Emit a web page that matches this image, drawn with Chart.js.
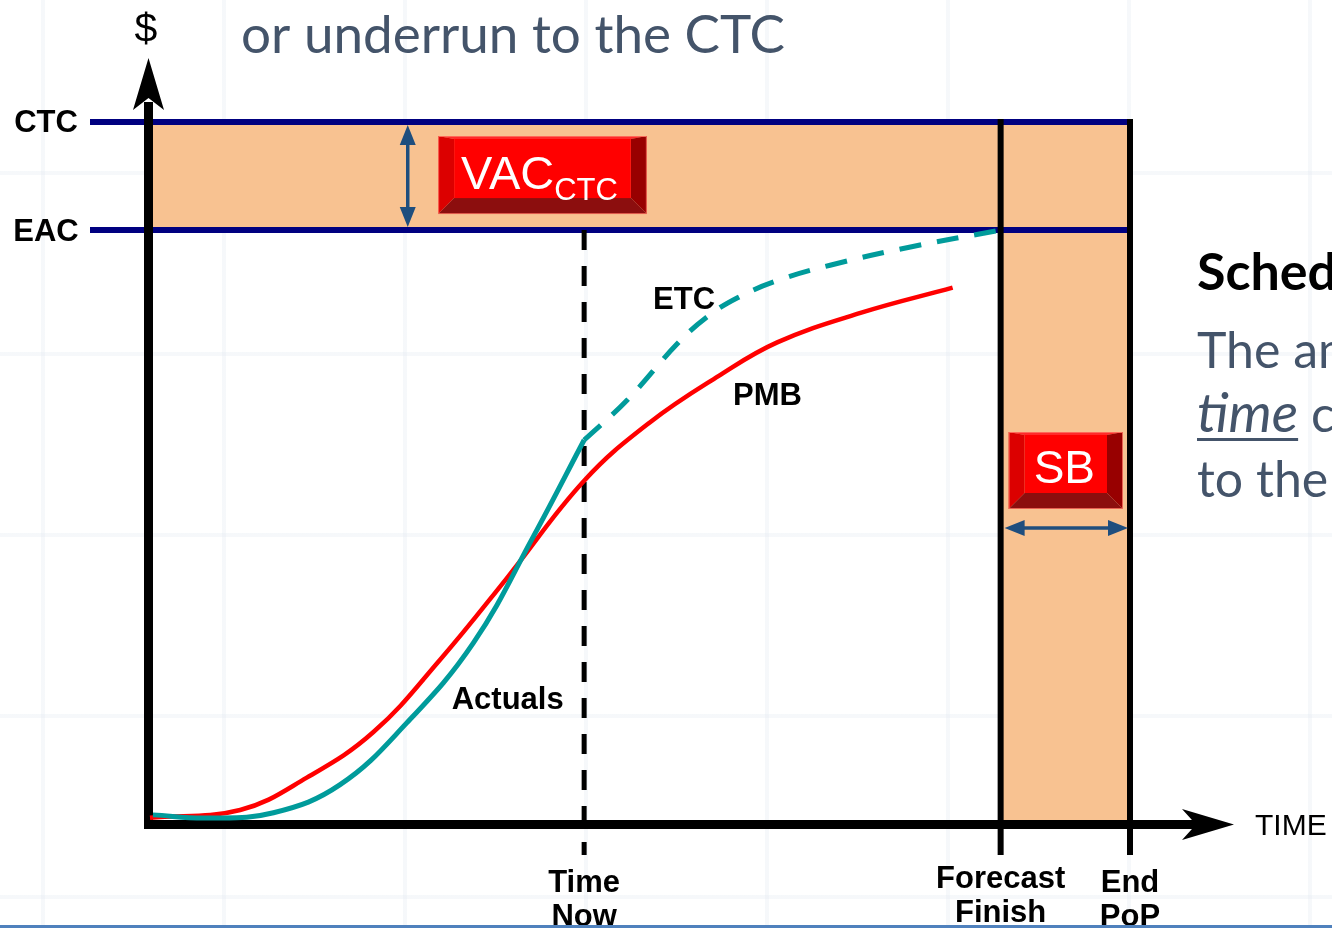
<!DOCTYPE html>
<html>
<head>
<meta charset="utf-8">
<title>CTC / EAC / Schedule Buffer</title>
<script src="https://cdn.jsdelivr.net/npm/chart.js@4.4.1/dist/chart.umd.min.js"></script>
<style>
    html, body { margin: 0; padding: 0; background: #fff; }
    #wrap {
        position: relative;
        width: 1332px;
        height: 928px;
        overflow: hidden;
        background-color: #fff;
        background-image:
            linear-gradient(to right, rgba(225, 232, 240, 0.3) 4px, transparent 4px),
            linear-gradient(to bottom, rgba(225, 232, 240, 0.3) 4px, transparent 4px);
        background-size: 181px 181px;
        background-position: 41px 171px;
    }
    #bottomRule {
        position: absolute; left: 0; right: 0; bottom: 0; height: 3px;
        background: #4f81bd;
    }
</style>
</head>
<body>
<div id="wrap">
    <canvas id="chart"></canvas>
    <div id="bottomRule"></div>
</div>
<script>
// Time axis: 0 = start, 100 = end of PoP.  Cost axis: 0 = zero, 100 = CTC.
const timeNow = 44.3;
const forecastFinish = 86.8;
const endPop = 100;
const ctc = 100;
const eac = 84.6;
const tickDepth = -4.4;

// Performance measurement baseline (red)
const pmbTime = [0, 9.2, 16, 22.8, 29.6, 36.4, 44.3, 51, 58, 64, 72.5, 81.9];
const pmbCost = [0.9, 2.0, 6.6, 13.1, 23.4, 35, 48.9, 57.2, 63.8, 68.6, 72.8, 76.4];

// Actuals up to time now (teal)
const actualTime = [0.3, 5.8, 12.6, 19.4, 26.2, 33, 39.1, 44.3];
const actualCost = [1.3, 0.85, 1.6, 5.6, 14.4, 25.8, 40.9, 54.7];

// Estimate to complete (teal dashed)
const etcTime = [44.3, 48.7, 53.8, 56.8, 60, 64, 69.4, 77.6, 86.8];
const etcCost = [54.7, 60.4, 68.4, 72.2, 75, 77.4, 79.6, 82.2, 84.6];

const milestoneTimes = [timeNow, forecastFinish, endPop];
const milestoneLabels = [['Time', 'Now'], ['Forecast', 'Finish'], ['End', 'PoP']];
const levelValues = [ctc, eac];
const levelLabels = ['CTC', 'EAC'];

// Curve labels placed in data units
const curveLabels = [
    { text: 'Actuals', t: 36.5, c: 16.4 },
    { text: 'PMB', t: 63, c: 59.7 },
    { text: 'ETC', t: 54.5, c: 73.4 }
];

const toPoints = (xs, ys) => xs.map((x, i) => ({ x, y: ys[i] }));

const BAND = '#f8c291';
const NAVY = '#000080';
const ARROW_BLUE = '#1f4e7e';
const SANS = '"Liberation Sans", Arial, sans-serif';
const SLIDE = 'Lato, "Open Sans", sans-serif';

function line(ctx, x1, y1, x2, y2) {
    ctx.beginPath();
    ctx.moveTo(x1, y1);
    ctx.lineTo(x2, y2);
    ctx.stroke();
}

function arrowHead(ctx, tipX, tipY, dx, dy, len, half, notch) {
    const bx = tipX - dx * len, by = tipY - dy * len;
    const nx = -dy, ny = dx;
    ctx.beginPath();
    ctx.moveTo(tipX, tipY);
    ctx.lineTo(bx + nx * half, by + ny * half);
    ctx.lineTo(tipX - dx * (len - notch), tipY - dy * (len - notch));
    ctx.lineTo(bx - nx * half, by - ny * half);
    ctx.closePath();
    ctx.fill();
}

// Bevelled red "button"
function button(ctx, x0, y0, x1, y1, bev) {
    const top = 3;
    const fx0 = x0 + bev, fx1 = x1 - bev, fy0 = y0 + top, fy1 = y1 - bev;
    const poly = (pts, color) => {
        ctx.fillStyle = color;
        ctx.beginPath();
        ctx.moveTo(pts[0][0], pts[0][1]);
        pts.slice(1).forEach(p => ctx.lineTo(p[0], p[1]));
        ctx.closePath();
        ctx.fill();
    };
    poly([[x0, y0], [x1, y0], [fx1, fy0], [fx0, fy0]], '#ff2a2a');
    poly([[x0, y0], [fx0, fy0], [fx0, fy1], [x0, y1]], '#dc0000');
    poly([[x1, y0], [x1, y1], [fx1, fy1], [fx1, fy0]], '#980000');
    poly([[x0, y1], [fx0, fy1], [fx1, fy1], [x1, y1]], '#8c0e0e');
    ctx.fillStyle = '#ff0000';
    ctx.fillRect(fx0, fy0, fx1 - fx0, fy1 - fy0);
    ctx.strokeStyle = 'rgba(255, 120, 100, 0.8)';
    ctx.lineWidth = 1;
    ctx.strokeRect(x0 + 0.5, y0 + 0.5, x1 - x0 - 1, y1 - y0 - 1);
}

function doubleArrow(ctx, x1, y1, x2, y2) {
    const len = Math.hypot(x2 - x1, y2 - y1);
    const dx = (x2 - x1) / len, dy = (y2 - y1) / len;
    ctx.strokeStyle = ARROW_BLUE;
    ctx.fillStyle = ARROW_BLUE;
    ctx.lineWidth = 3.5;
    line(ctx, x1 + dx * 10, y1 + dy * 10, x2 - dx * 10, y2 - dy * 10);
    arrowHead(ctx, x2, y2, dx, dy, 20, 8, 0);
    arrowHead(ctx, x1, y1, -dx, -dy, 20, 8, 0);
}

const slidePlugin = {
    id: 'slide',
    beforeDatasetsDraw(chart) {
        const { ctx, scales: { x, y } } = chart;
        const px = v => x.getPixelForValue(v);
        const py = v => y.getPixelForValue(v);
        ctx.save();

        // VAC band and schedule buffer band
        ctx.fillStyle = BAND;
        ctx.fillRect(px(0), py(ctc), px(endPop) - px(0), py(eac) - py(ctc));
        ctx.fillRect(px(forecastFinish), py(eac), px(endPop) - px(forecastFinish), py(0) - py(eac));

        // CTC / EAC levels
        ctx.strokeStyle = NAVY;
        ctx.lineWidth = 6;
        levelValues.forEach(v => line(ctx, 90, py(v), px(endPop) + 2, py(v)));

        // Forecast finish and end of PoP
        ctx.strokeStyle = '#000';
        ctx.lineWidth = 6;
        [forecastFinish, endPop].forEach(t => line(ctx, px(t), py(ctc) - 3, px(t), py(tickDepth)));

        // Axes
        const ax = px(0) - 1.5, ay = py(0) + 0.5;
        ctx.lineWidth = 9;
        ctx.fillStyle = '#000';
        line(ctx, ax, ay + 4.5, ax, py(ctc) - 20);
        arrowHead(ctx, ax, 58, 0, -1, 52, 15.5, 12);
        line(ctx, ax - 4.5, ay, 1200, ay);
        arrowHead(ctx, 1234, ay, 1, 0, 52, 15.5, 14);

        ctx.restore();
    },
    afterDatasetsDraw(chart) {
        const { ctx, scales: { x, y } } = chart;
        const px = v => x.getPixelForValue(v);
        const py = v => y.getPixelForValue(v);
        ctx.save();

        // VAC(CTC) button and arrow
        doubleArrow(ctx, px(26.3), py(ctc) + 3, px(26.3), py(eac) - 3);
        const vx0 = px(29.4), vx1 = px(50.7);
        button(ctx, vx0, py(ctc) + 14, vx1, py(eac) - 16, 16);
        ctx.fillStyle = '#fff';
        ctx.textBaseline = 'alphabetic';
        ctx.textAlign = 'left';
        ctx.font = '47px ' + SANS;
        const wMain = ctx.measureText('VAC').width;
        ctx.font = '31px ' + SANS;
        const wSub = ctx.measureText('CTC').width;
        const tx = (vx0 + vx1) / 2 - (wMain + wSub) / 2 - 3;
        ctx.font = '47px ' + SANS;
        ctx.fillText('VAC', tx, 189);
        ctx.font = '31px ' + SANS;
        ctx.fillText('CTC', tx + wMain, 200);

        // Schedule buffer button and arrow
        const sx0 = px(forecastFinish), sx1 = px(endPop);
        button(ctx, sx0 + 8, 432, sx1 - 7, 509, 16);
        ctx.fillStyle = '#fff';
        ctx.textAlign = 'center';
        ctx.font = '46px ' + SANS;
        ctx.fillText('SB', (sx0 + sx1) / 2 - 1, 483);
        doubleArrow(ctx, sx0 + 4, 528, sx1 - 2, 528);

        // Curve labels
        ctx.fillStyle = '#000';
        ctx.font = 'bold 31px ' + SANS;
        curveLabels.forEach(l => ctx.fillText(l.text, px(l.t), py(l.c)));

        // Milestone labels under the time axis
        milestoneTimes.forEach((t, i) => {
            const lift = i === 1 ? 4 : 0;
            ctx.fillText(milestoneLabels[i][0], px(t), 892 - lift);
            ctx.fillText(milestoneLabels[i][1], px(t), 926 - lift);
        });

        // Level labels
        levelValues.forEach((v, i) => ctx.fillText(levelLabels[i], 46, py(v) + 10 + i));

        // Axis titles
        ctx.font = '41px ' + SANS;
        ctx.fillText('$', 146, 42);
        ctx.textAlign = 'left';
        ctx.font = '30px ' + SANS;
        ctx.fillText('TIME', 1255, 835);

        // Slide text around the chart
        ctx.fillStyle = '#44546a';
        ctx.font = '53px ' + SLIDE;
        ctx.fillText('or underrun to the CTC', 241, 53);
        ctx.fillStyle = '#000';
        ctx.font = 'bold 52px ' + SLIDE;
        ctx.fillText('Schedule Buffer', 1197, 290);
        ctx.fillStyle = '#44546a';
        ctx.font = '50px ' + SLIDE;
        ctx.fillText('The amount of', 1197, 368);
        ctx.font = 'italic 55px ' + SLIDE;
        ctx.fillText('time', 1197, 432);
        const wTime = ctx.measureText('time').width;
        ctx.fillRect(1197, 438, wTime, 3);
        ctx.font = '50px ' + SLIDE;
        ctx.fillText(' contingency', 1197 + wTime, 432);
        ctx.fillText('to the schedule', 1197, 497);

        ctx.restore();
    }
};

new Chart(document.getElementById('chart'), {
    type: 'line',
    data: {
        datasets: [
            {
                label: 'Actuals',
                data: toPoints(actualTime, actualCost),
                borderColor: '#009b9b',
                borderWidth: 5,
                pointRadius: 0,
                tension: 0.4,
                clip: false
            },
            {
                label: 'ETC',
                data: toPoints(etcTime, etcCost),
                borderColor: '#009b9b',
                borderWidth: 5,
                borderDash: [22, 16],
                pointRadius: 0,
                tension: 0.4,
                clip: false
            },
            {
                label: 'PMB',
                data: toPoints(pmbTime, pmbCost),
                borderColor: '#ff0000',
                borderWidth: 4.5,
                pointRadius: 0,
                tension: 0.4,
                clip: false
            },
            {
                label: 'Time Now',
                data: [{ x: timeNow, y: eac }, { x: timeNow, y: tickDepth }],
                borderColor: '#000',
                borderWidth: 5,
                borderDash: [20, 16],
                pointRadius: 0,
                clip: false
            }
        ]
    },
    options: {
        animation: false,
        responsive: true,
        maintainAspectRatio: false,
        events: [],
        layout: { padding: { left: 150, right: 202, top: 122, bottom: 104 } },
        plugins: {
            legend: { display: false },
            tooltip: { enabled: false }
        },
        scales: {
            x: { type: 'linear', min: 0, max: 100, display: false },
            y: { type: 'linear', min: 0, max: 100, display: false }
        }
    },
    plugins: [slidePlugin]
});
</script>
</body>
</html>
